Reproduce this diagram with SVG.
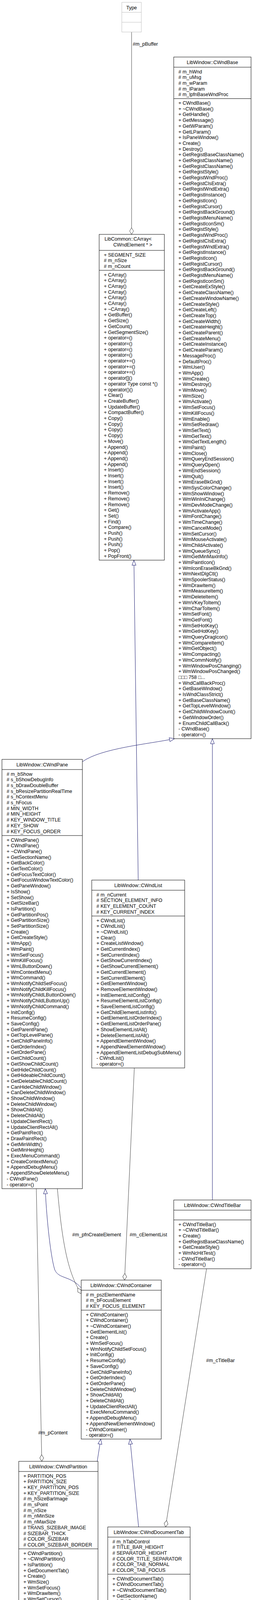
<svg xmlns="http://www.w3.org/2000/svg" width="648" height="4975" viewBox="0 0 648 4975">
<style>
.box{fill:#fff;stroke:#000;stroke-width:1}
.gbox{fill:#bfbfbf;stroke:#000;stroke-width:1}
.sep{stroke:#000;stroke-width:1}
.t{font-family:"Liberation Sans",Arial,sans-serif;font-size:12.5px;fill:#000}
.c{text-anchor:middle}
.gen{stroke:#191970;fill:none;stroke-width:1}
.agg{stroke:#404040;fill:none;stroke-width:1}
</style>
<defs>
<marker id="tri" markerUnits="userSpaceOnUse" markerWidth="16" markerHeight="14" refX="14" refY="7" orient="auto" overflow="visible"><path d="M1,2 L14,7 L1,12 z" fill="#fff" stroke="#191970"/></marker>
<marker id="dia" markerUnits="userSpaceOnUse" markerWidth="20" markerHeight="14" refX="18" refY="7" orient="auto" overflow="visible"><path d="M1,7 L9.5,2 L18,7 L9.5,12 z" fill="#fff" stroke="#404040"/></marker>
</defs>
<rect width="648" height="4975" fill="#fff"/>

<g id="connectors">
<path class="agg" d="M337,82 L337,600" marker-end="url(#dia)"/>
<path class="gen" d="M354,2253 L343,1434" marker-end="url(#tri)"/>
<path class="gen" d="M211,1950 C260,1915 380,1905 447,1891" marker-end="url(#tri)"/>
<path class="gen" d="M544,3072 L544,1891" marker-end="url(#tri)"/>
<path class="gen" d="M208,3297 C180,3265 150,3275 140,3250 C128,3210 118,3100 116,3043" marker-end="url(#tri)"/>
<path class="agg" d="M147,3043 C160,3190 175,3260 208,3312" marker-end="url(#dia)"/>
<path class="agg" d="M344,2734 L319,3277" marker-end="url(#dia)"/>
<path class="agg" d="M93,3043 L107,3741" marker-end="url(#dia)"/>
<path class="gen" d="M249,3741 L258,3684" marker-end="url(#tri)"/>
<path class="gen" d="M355,3909 L333,3684" marker-end="url(#tri)"/>
<path class="agg" d="M529,3248 L424,3909" marker-end="url(#dia)"/>
<path class="agg" d="M346,4390 L313,4628" marker-end="url(#dia)"/>
<path class="gen" d="M251,4628 L241,4560" marker-end="url(#tri)"/>
<text class="t" x="340" y="117">#m_pBuffer</text>
<text class="t" x="332" y="3165">#m_cElementList</text>
<text class="t" x="185" y="3165">#m_pfnCreateElement</text>
<text class="t" x="528" y="3487">#m_cTitleBar</text>
<text class="t" x="321" y="4600">#m_cDocumentTab</text>
<text class="t" x="98" y="3672">#m_pContent</text>
</g>

<g id="Type">
<rect x="312" y="6" width="50" height="76" fill="#fff" stroke="#bfbfbf"/>
<line x1="312" y1="31.5" x2="362" y2="31.5" stroke="#bfbfbf"/>
<line x1="312" y1="57" x2="362" y2="57" stroke="#bfbfbf"/>
<text class="t c" x="337" y="23.5">Type</text>
</g>

<g id="CWndBase">
<rect class="box" x="445" y="146" width="198" height="1745"/>
<line class="sep" x1="445" y1="172" x2="643" y2="172"/>
<line class="sep" x1="445" y1="252.5" x2="643" y2="252.5"/>
<text class="t c" x="544" y="163.5">LibWindow::CWndBase</text>
<text class="t" x="457" y="172.8"><tspan x="457" dy="14.7"># m_hWnd</tspan><tspan x="457" dy="14.7"># m_uMsg</tspan><tspan x="457" dy="14.7"># m_wParam</tspan><tspan x="457" dy="14.7"># m_lParam</tspan><tspan x="457" dy="14.7"># m_lpfnBaseWndProc</tspan></text>
<text class="t" x="457" y="253.3"><tspan x="457" dy="14.7">+ CWndBase()</tspan><tspan x="457" dy="14.7">+ ~CWndBase()</tspan><tspan x="457" dy="14.7">+ GetHandle()</tspan><tspan x="457" dy="14.7">+ GetMessage()</tspan><tspan x="457" dy="14.7">+ GetWParam()</tspan><tspan x="457" dy="14.7">+ GetLParam()</tspan><tspan x="457" dy="14.7">+ IsPaneWindow()</tspan><tspan x="457" dy="14.7">+ Create()</tspan><tspan x="457" dy="14.7">+ Destroy()</tspan><tspan x="457" dy="14.7">+ GetRegistBaseClassName()</tspan><tspan x="457" dy="14.7">+ GetRegistClassName()</tspan><tspan x="457" dy="14.7">+ GetRegistClassName()</tspan><tspan x="457" dy="14.7">+ GetRegistStyle()</tspan><tspan x="457" dy="14.7">+ GetRegistWndProc()</tspan><tspan x="457" dy="14.7">+ GetRegistClsExtra()</tspan><tspan x="457" dy="14.7">+ GetRegistWndExtra()</tspan><tspan x="457" dy="14.7">+ GetRegistInstance()</tspan><tspan x="457" dy="14.7">+ GetRegistIcon()</tspan><tspan x="457" dy="14.7">+ GetRegistCursor()</tspan><tspan x="457" dy="14.7">+ GetRegistBackGround()</tspan><tspan x="457" dy="14.7">+ GetRegistMenuName()</tspan><tspan x="457" dy="14.7">+ GetRegistIconSm()</tspan><tspan x="457" dy="14.7">+ GetRegistStyle()</tspan><tspan x="457" dy="14.7">+ GetRegistWndProc()</tspan><tspan x="457" dy="14.7">+ GetRegistClsExtra()</tspan><tspan x="457" dy="14.7">+ GetRegistWndExtra()</tspan><tspan x="457" dy="14.7">+ GetRegistInstance()</tspan><tspan x="457" dy="14.7">+ GetRegistIcon()</tspan><tspan x="457" dy="14.7">+ GetRegistCursor()</tspan><tspan x="457" dy="14.7">+ GetRegistBackGround()</tspan><tspan x="457" dy="14.7">+ GetRegistMenuName()</tspan><tspan x="457" dy="14.7">+ GetRegistIconSm()</tspan><tspan x="457" dy="14.7">+ GetCreateExStyle()</tspan><tspan x="457" dy="14.7">+ GetCreateClassName()</tspan><tspan x="457" dy="14.7">+ GetCreateWindowName()</tspan><tspan x="457" dy="14.7">+ GetCreateStyle()</tspan><tspan x="457" dy="14.7">+ GetCreateLeft()</tspan><tspan x="457" dy="14.7">+ GetCreateTop()</tspan><tspan x="457" dy="14.7">+ GetCreateWidth()</tspan><tspan x="457" dy="14.7">+ GetCreateHeight()</tspan><tspan x="457" dy="14.7">+ GetCreateParent()</tspan><tspan x="457" dy="14.7">+ GetCreateMenu()</tspan><tspan x="457" dy="14.7">+ GetCreateInstance()</tspan><tspan x="457" dy="14.7">+ GetCreateParam()</tspan><tspan x="457" dy="14.7">+ MessageProc()</tspan><tspan x="457" dy="14.7">+ DefaultProc()</tspan><tspan x="457" dy="14.7">+ WmUser()</tspan><tspan x="457" dy="14.7">+ WmApp()</tspan><tspan x="457" dy="14.7">+ WmCreate()</tspan><tspan x="457" dy="14.7">+ WmDestroy()</tspan><tspan x="457" dy="14.7">+ WmMove()</tspan><tspan x="457" dy="14.7">+ WmSize()</tspan><tspan x="457" dy="14.7">+ WmActivate()</tspan><tspan x="457" dy="14.7">+ WmSetFocus()</tspan><tspan x="457" dy="14.7">+ WmKillFocus()</tspan><tspan x="457" dy="14.7">+ WmEnable()</tspan><tspan x="457" dy="14.7">+ WmSetRedraw()</tspan><tspan x="457" dy="14.7">+ WmSetText()</tspan><tspan x="457" dy="14.7">+ WmGetText()</tspan><tspan x="457" dy="14.7">+ WmGetTextLength()</tspan><tspan x="457" dy="14.7">+ WmPaint()</tspan><tspan x="457" dy="14.7">+ WmClose()</tspan><tspan x="457" dy="14.7">+ WmQueryEndSession()</tspan><tspan x="457" dy="14.7">+ WmQueryOpen()</tspan><tspan x="457" dy="14.7">+ WmEndSession()</tspan><tspan x="457" dy="14.7">+ WmQuit()</tspan><tspan x="457" dy="14.7">+ WmEraseBkGnd()</tspan><tspan x="457" dy="14.7">+ WmSysColorChange()</tspan><tspan x="457" dy="14.7">+ WmShowWindow()</tspan><tspan x="457" dy="14.7">+ WmWinIniChange()</tspan><tspan x="457" dy="14.7">+ WmDevModeChange()</tspan><tspan x="457" dy="14.7">+ WmActivateApp()</tspan><tspan x="457" dy="14.7">+ WmFontChange()</tspan><tspan x="457" dy="14.7">+ WmTimeChange()</tspan><tspan x="457" dy="14.7">+ WmCancelMode()</tspan><tspan x="457" dy="14.7">+ WmSetCursor()</tspan><tspan x="457" dy="14.7">+ WmMouseActivate()</tspan><tspan x="457" dy="14.7">+ WmChildActivate()</tspan><tspan x="457" dy="14.7">+ WmQueueSync()</tspan><tspan x="457" dy="14.7">+ WmGetMinMaxInfo()</tspan><tspan x="457" dy="14.7">+ WmPaintIcon()</tspan><tspan x="457" dy="14.7">+ WmIconEraseBkGnd()</tspan><tspan x="457" dy="14.7">+ WmNextDlgCtl()</tspan><tspan x="457" dy="14.7">+ WmSpoolerStatus()</tspan><tspan x="457" dy="14.7">+ WmDrawItem()</tspan><tspan x="457" dy="14.7">+ WmMeasureItem()</tspan><tspan x="457" dy="14.7">+ WmDeleteItem()</tspan><tspan x="457" dy="14.7">+ WmVKeyToItem()</tspan><tspan x="457" dy="14.7">+ WmCharToItem()</tspan><tspan x="457" dy="14.7">+ WmSetFont()</tspan><tspan x="457" dy="14.7">+ WmGetFont()</tspan><tspan x="457" dy="14.7">+ WmSetHotKey()</tspan><tspan x="457" dy="14.7">+ WmGetHotKey()</tspan><tspan x="457" dy="14.7">+ WmQueryDragIcon()</tspan><tspan x="457" dy="14.7">+ WmCompareItem()</tspan><tspan x="457" dy="14.7">+ WmGetObject()</tspan><tspan x="457" dy="14.7">+ WmCompacting()</tspan><tspan x="457" dy="14.7">+ WmCommNotify()</tspan><tspan x="457" dy="14.7">+ WmWindowPosChanging()</tspan><tspan x="457" dy="14.7">+ WmWindowPosChanged()</tspan><tspan x="457" dy="14.7">□□□ 758 □...</tspan><tspan x="457" dy="14.7">+ WndCallBackProc()</tspan><tspan x="457" dy="14.7">+ GetBaseWindow()</tspan><tspan x="457" dy="14.7">+ IsWndClassStrict()</tspan><tspan x="457" dy="14.7">+ GetBaseClassName()</tspan><tspan x="457" dy="14.7">+ GetTopLevelWindow()</tspan><tspan x="457" dy="14.7">+ GetChildWindowCount()</tspan><tspan x="457" dy="14.7">+ GetWindowOrder()</tspan><tspan x="457" dy="14.7">+ EnumChildCallBack()</tspan><tspan x="457" dy="14.7">- CWndBase()</tspan><tspan x="457" dy="14.7">- operator=()</tspan></text>
</g>

<g id="CArray">
<rect class="box" x="254" y="600" width="167" height="834"/>
<line class="sep" x1="254" y1="641" x2="421" y2="641"/>
<line class="sep" x1="254" y1="692" x2="421" y2="692"/>
<text class="t c" x="328" y="616">LibCommon::CArray&lt;</text>
<text class="t c" x="340" y="631">CWndElement * &gt;</text>
<text class="t" x="266" y="641.8"><tspan x="266" dy="14.7">+ SEGMENT_SIZE</tspan><tspan x="266" dy="14.7"># m_nSize</tspan><tspan x="266" dy="14.7"># m_nCount</tspan></text>
<text class="t" x="266" y="692.8"><tspan x="266" dy="14.7">+ CArray()</tspan><tspan x="266" dy="14.7">+ CArray()</tspan><tspan x="266" dy="14.7">+ CArray()</tspan><tspan x="266" dy="14.7">+ CArray()</tspan><tspan x="266" dy="14.7">+ CArray()</tspan><tspan x="266" dy="14.7">+ CArray()</tspan><tspan x="266" dy="14.7">+ ~CArray()</tspan><tspan x="266" dy="14.7">+ GetBuffer()</tspan><tspan x="266" dy="14.7">+ GetSize()</tspan><tspan x="266" dy="14.7">+ GetCount()</tspan><tspan x="266" dy="14.7">+ GetSegmentSize()</tspan><tspan x="266" dy="14.7">+ operator=()</tspan><tspan x="266" dy="14.7">+ operator=()</tspan><tspan x="266" dy="14.7">+ operator=()</tspan><tspan x="266" dy="14.7">+ operator=()</tspan><tspan x="266" dy="14.7">+ operator+=()</tspan><tspan x="266" dy="14.7">+ operator+=()</tspan><tspan x="266" dy="14.7">+ operator+=()</tspan><tspan x="266" dy="14.7">+ operator[]()</tspan><tspan x="266" dy="14.7">+ operator Type const *()</tspan><tspan x="266" dy="14.7">+ operator()()</tspan><tspan x="266" dy="14.7">+ Clear()</tspan><tspan x="266" dy="14.7">+ CreateBuffer()</tspan><tspan x="266" dy="14.7">+ UpdateBuffer()</tspan><tspan x="266" dy="14.7">+ CompactBuffer()</tspan><tspan x="266" dy="14.7">+ Copy()</tspan><tspan x="266" dy="14.7">+ Copy()</tspan><tspan x="266" dy="14.7">+ Copy()</tspan><tspan x="266" dy="14.7">+ Copy()</tspan><tspan x="266" dy="14.7">+ Move()</tspan><tspan x="266" dy="14.7">+ Append()</tspan><tspan x="266" dy="14.7">+ Append()</tspan><tspan x="266" dy="14.7">+ Append()</tspan><tspan x="266" dy="14.7">+ Append()</tspan><tspan x="266" dy="14.7">+ Insert()</tspan><tspan x="266" dy="14.7">+ Insert()</tspan><tspan x="266" dy="14.7">+ Insert()</tspan><tspan x="266" dy="14.7">+ Insert()</tspan><tspan x="266" dy="14.7">+ Remove()</tspan><tspan x="266" dy="14.7">+ Remove()</tspan><tspan x="266" dy="14.7">+ Remove()</tspan><tspan x="266" dy="14.7">+ Get()</tspan><tspan x="266" dy="14.7">+ Set()</tspan><tspan x="266" dy="14.7">+ Find()</tspan><tspan x="266" dy="14.7">+ Compare()</tspan><tspan x="266" dy="14.7">+ Push()</tspan><tspan x="266" dy="14.7">+ Push()</tspan><tspan x="266" dy="14.7">+ Push()</tspan><tspan x="266" dy="14.7">+ Pop()</tspan><tspan x="266" dy="14.7">+ PopFront()</tspan></text>
</g>

<g id="CWndPane">
<rect class="box" x="5" y="1944" width="206" height="1099"/>
<line class="sep" x1="5" y1="1970" x2="211" y2="1970"/>
<line class="sep" x1="5" y1="2139" x2="211" y2="2139"/>
<text class="t c" x="108" y="1961.5">LibWindow::CWndPane</text>
<text class="t" x="17" y="1970.8"><tspan x="17" dy="14.7"># m_bShow</tspan><tspan x="17" dy="14.7"># s_bShowDebugInfo</tspan><tspan x="17" dy="14.7"># s_bDrawDoubleBuffer</tspan><tspan x="17" dy="14.7"># s_bResizePartitionRealTime</tspan><tspan x="17" dy="14.7"># s_hContextMenu</tspan><tspan x="17" dy="14.7"># s_hFocus</tspan><tspan x="17" dy="14.7"># MIN_WIDTH</tspan><tspan x="17" dy="14.7"># MIN_HEIGHT</tspan><tspan x="17" dy="14.7"># KEY_WINDOW_TITLE</tspan><tspan x="17" dy="14.7"># KEY_SHOW</tspan><tspan x="17" dy="14.7"># KEY_FOCUS_ORDER</tspan></text>
<text class="t" x="17" y="2139.8"><tspan x="17" dy="14.7">+ CWndPane()</tspan><tspan x="17" dy="14.7">+ CWndPane()</tspan><tspan x="17" dy="14.7">+ ~CWndPane()</tspan><tspan x="17" dy="14.7">+ GetSectionName()</tspan><tspan x="17" dy="14.7">+ GetBackColor()</tspan><tspan x="17" dy="14.7">+ GetTextColor()</tspan><tspan x="17" dy="14.7">+ GetFocusTextColor()</tspan><tspan x="17" dy="14.7">+ GetFocusWindowTextColor()</tspan><tspan x="17" dy="14.7">+ GetPaneWindow()</tspan><tspan x="17" dy="14.7">+ IsShow()</tspan><tspan x="17" dy="14.7">+ SetShow()</tspan><tspan x="17" dy="14.7">+ GetSizeBar()</tspan><tspan x="17" dy="14.7">+ IsPartition()</tspan><tspan x="17" dy="14.7">+ GetPartitionPos()</tspan><tspan x="17" dy="14.7">+ GetPartitionSize()</tspan><tspan x="17" dy="14.7">+ SetPartitionSize()</tspan><tspan x="17" dy="14.7">+ Create()</tspan><tspan x="17" dy="14.7">+ GetCreateStyle()</tspan><tspan x="17" dy="14.7">+ WmApp()</tspan><tspan x="17" dy="14.7">+ WmPaint()</tspan><tspan x="17" dy="14.7">+ WmSetFocus()</tspan><tspan x="17" dy="14.7">+ WmKillFocus()</tspan><tspan x="17" dy="14.7">+ WmLButtonDown()</tspan><tspan x="17" dy="14.7">+ WmContextMenu()</tspan><tspan x="17" dy="14.7">+ WmCommand()</tspan><tspan x="17" dy="14.7">+ WmNotifyChildSetFocus()</tspan><tspan x="17" dy="14.7">+ WmNotifyChildKillFocus()</tspan><tspan x="17" dy="14.7">+ WmNotifyChildLButtonDown()</tspan><tspan x="17" dy="14.7">+ WmNotifyChildLButtonUp()</tspan><tspan x="17" dy="14.7">+ WmNotifyChildCommand()</tspan><tspan x="17" dy="14.7">+ InitConfig()</tspan><tspan x="17" dy="14.7">+ ResumeConfig()</tspan><tspan x="17" dy="14.7">+ SaveConfig()</tspan><tspan x="17" dy="14.7">+ GetParentPane()</tspan><tspan x="17" dy="14.7">+ GetTopLevelPane()</tspan><tspan x="17" dy="14.7">+ GetChildPaneInfo()</tspan><tspan x="17" dy="14.7">+ GetOrderIndex()</tspan><tspan x="17" dy="14.7">+ GetOrderPane()</tspan><tspan x="17" dy="14.7">+ GetChildCount()</tspan><tspan x="17" dy="14.7">+ GetShowChildCount()</tspan><tspan x="17" dy="14.7">+ GetHideChildCount()</tspan><tspan x="17" dy="14.7">+ GetHideableChildCount()</tspan><tspan x="17" dy="14.7">+ GetDeletableChildCount()</tspan><tspan x="17" dy="14.7">+ CanHideChildWindow()</tspan><tspan x="17" dy="14.7">+ CanDeleteChildWindow()</tspan><tspan x="17" dy="14.7">+ ShowChildWindow()</tspan><tspan x="17" dy="14.7">+ DeleteChildWindow()</tspan><tspan x="17" dy="14.7">+ ShowChildAll()</tspan><tspan x="17" dy="14.7">+ DeleteChildAll()</tspan><tspan x="17" dy="14.7">+ UpdateClientRect()</tspan><tspan x="17" dy="14.7">+ UpdateClientRectAll()</tspan><tspan x="17" dy="14.7">+ GetPaintRect()</tspan><tspan x="17" dy="14.7">+ DrawPaintRect()</tspan><tspan x="17" dy="14.7">+ GetMinWidth()</tspan><tspan x="17" dy="14.7">+ GetMinHeight()</tspan><tspan x="17" dy="14.7">+ ExecMenuCommand()</tspan><tspan x="17" dy="14.7">+ CreateContextMenu()</tspan><tspan x="17" dy="14.7">+ AppendDebugMenu()</tspan><tspan x="17" dy="14.7">+ AppendShowDeleteMenu()</tspan><tspan x="17" dy="14.7">- CWndPane()</tspan><tspan x="17" dy="14.7">- operator=()</tspan></text>
</g>

<g id="CWndList">
<rect class="box" x="235" y="2253" width="238" height="481"/>
<line class="sep" x1="235" y1="2279" x2="473" y2="2279"/>
<line class="sep" x1="235" y1="2345" x2="473" y2="2345"/>
<text class="t c" x="354" y="2270.5">LibWindow::CWndList</text>
<text class="t" x="247" y="2279.8"><tspan x="247" dy="14.7"># m_nCurrent</tspan><tspan x="247" dy="14.7"># SECTION_ELEMENT_INFO</tspan><tspan x="247" dy="14.7"># KEY_ELEMENT_COUNT</tspan><tspan x="247" dy="14.7"># KEY_CURRENT_INDEX</tspan></text>
<text class="t" x="247" y="2345.8"><tspan x="247" dy="14.7">+ CWndList()</tspan><tspan x="247" dy="14.7">+ CWndList()</tspan><tspan x="247" dy="14.7">+ ~CWndList()</tspan><tspan x="247" dy="14.7">+ Clear()</tspan><tspan x="247" dy="14.7">+ CreateListWindow()</tspan><tspan x="247" dy="14.7">+ GetCurrentIndex()</tspan><tspan x="247" dy="14.7">+ SetCurrentIndex()</tspan><tspan x="247" dy="14.7">+ GetShowCurrentIndex()</tspan><tspan x="247" dy="14.7">+ GetShowCurrentElement()</tspan><tspan x="247" dy="14.7">+ GetCurrentElement()</tspan><tspan x="247" dy="14.7">+ SetCurrentElement()</tspan><tspan x="247" dy="14.7">+ GetElementWindow()</tspan><tspan x="247" dy="14.7">+ RemoveElementWindow()</tspan><tspan x="247" dy="14.7">+ InitElementListConfig()</tspan><tspan x="247" dy="14.7">+ ResumeElementListConfig()</tspan><tspan x="247" dy="14.7">+ SaveElementListConfig()</tspan><tspan x="247" dy="14.7">+ GetChildElementListInfo()</tspan><tspan x="247" dy="14.7">+ GetElementListOrderIndex()</tspan><tspan x="247" dy="14.7">+ GetElementListOrderPane()</tspan><tspan x="247" dy="14.7">+ ShowElementListAll()</tspan><tspan x="247" dy="14.7">+ DeleteElementListAll()</tspan><tspan x="247" dy="14.7">+ AppendElementWindow()</tspan><tspan x="247" dy="14.7">+ AppendNewElementWindow()</tspan><tspan x="247" dy="14.7">+ AppendElementListDebugSubMenu()</tspan><tspan x="247" dy="14.7">- CWndList()</tspan><tspan x="247" dy="14.7">- operator=()</tspan></text>
</g>

<g id="CWndTitleBar">
<rect class="box" x="445" y="3072" width="198" height="176"/>
<line class="sep" x1="445" y1="3098" x2="643" y2="3098"/>
<line class="sep" x1="445" y1="3123" x2="643" y2="3123"/>
<text class="t c" x="544" y="3089.5">LibWindow::CWndTitleBar</text>
<text class="t" x="457" y="3123.8"><tspan x="457" dy="14.7">+ CWndTitleBar()</tspan><tspan x="457" dy="14.7">+ ~CWndTitleBar()</tspan><tspan x="457" dy="14.7">+ Create()</tspan><tspan x="457" dy="14.7">+ GetRegistBaseClassName()</tspan><tspan x="457" dy="14.7">+ GetCreateStyle()</tspan><tspan x="457" dy="14.7">+ WmNcHitTest()</tspan><tspan x="457" dy="14.7">- CWndTitleBar()</tspan><tspan x="457" dy="14.7">- operator=()</tspan></text>
</g>

<g id="CWndContainer">
<rect class="box" x="208" y="3277" width="205" height="407"/>
<line class="sep" x1="208" y1="3303" x2="413" y2="3303"/>
<line class="sep" x1="208" y1="3354" x2="413" y2="3354"/>
<text class="t c" x="310" y="3294.5">LibWindow::CWndContainer</text>
<text class="t" x="220" y="3303.8"><tspan x="220" dy="14.7"># m_pszElementName</tspan><tspan x="220" dy="14.7"># m_bFocusElement</tspan><tspan x="220" dy="14.7"># KEY_FOCUS_ELEMENT</tspan></text>
<text class="t" x="220" y="3354.8"><tspan x="220" dy="14.7">+ CWndContainer()</tspan><tspan x="220" dy="14.7">+ CWndContainer()</tspan><tspan x="220" dy="14.7">+ ~CWndContainer()</tspan><tspan x="220" dy="14.7">+ GetElementList()</tspan><tspan x="220" dy="14.7">+ Create()</tspan><tspan x="220" dy="14.7">+ WmSetFocus()</tspan><tspan x="220" dy="14.7">+ WmNotifyChildSetFocus()</tspan><tspan x="220" dy="14.7">+ InitConfig()</tspan><tspan x="220" dy="14.7">+ ResumeConfig()</tspan><tspan x="220" dy="14.7">+ SaveConfig()</tspan><tspan x="220" dy="14.7">+ GetChildPaneInfo()</tspan><tspan x="220" dy="14.7">+ GetOrderIndex()</tspan><tspan x="220" dy="14.7">+ GetOrderPane()</tspan><tspan x="220" dy="14.7">+ DeleteChildWindow()</tspan><tspan x="220" dy="14.7">+ ShowChildAll()</tspan><tspan x="220" dy="14.7">+ DeleteChildAll()</tspan><tspan x="220" dy="14.7">+ UpdateClientRectAll()</tspan><tspan x="220" dy="14.7">+ ExecMenuCommand()</tspan><tspan x="220" dy="14.7">+ AppendDebugMenu()</tspan><tspan x="220" dy="14.7">+ AppendNewElementWindow()</tspan><tspan x="220" dy="14.7">- CWndContainer()</tspan><tspan x="220" dy="14.7">- operator=()</tspan></text>
</g>

<g id="CWndPartition">
<rect class="box" x="48" y="3741" width="203" height="819"/>
<line class="sep" x1="48" y1="3767" x2="251" y2="3767"/>
<line class="sep" x1="48" y1="3965" x2="251" y2="3965"/>
<text class="t c" x="149" y="3758.5">LibWindow::CWndPartition</text>
<text class="t" x="60" y="3767.8"><tspan x="60" dy="14.7">+ PARTITION_POS</tspan><tspan x="60" dy="14.7">+ PARTITION_SIZE</tspan><tspan x="60" dy="14.7">+ KEY_PARTITION_POS</tspan><tspan x="60" dy="14.7">+ KEY_PARTITION_SIZE</tspan><tspan x="60" dy="14.7"># m_hSizeBarImage</tspan><tspan x="60" dy="14.7"># m_sPoint</tspan><tspan x="60" dy="14.7"># m_nSize</tspan><tspan x="60" dy="14.7"># m_nMinSize</tspan><tspan x="60" dy="14.7"># m_nMaxSize</tspan><tspan x="60" dy="14.7"># TRANS_SIZEBAR_IMAGE</tspan><tspan x="60" dy="14.7"># SIZEBAR_THICK</tspan><tspan x="60" dy="14.7"># COLOR_SIZEBAR</tspan><tspan x="60" dy="14.7"># COLOR_SIZEBAR_BORDER</tspan></text>
<text class="t" x="60" y="3965.8"><tspan x="60" dy="14.7">+ CWndPartition()</tspan><tspan x="60" dy="14.7">+ ~CWndPartition()</tspan><tspan x="60" dy="14.7">+ IsPartition()</tspan><tspan x="60" dy="14.7">+ GetDocumentTab()</tspan><tspan x="60" dy="14.7">+ Create()</tspan><tspan x="60" dy="14.7">+ WmSize()</tspan><tspan x="60" dy="14.7">+ WmSetFocus()</tspan><tspan x="60" dy="14.7">+ WmDrawItem()</tspan><tspan x="60" dy="14.7">+ WmSetCursor()</tspan><tspan x="60" dy="14.7">+ StnClicked()</tspan><tspan x="60" dy="14.7">+ WmLButtonUp()</tspan><tspan x="60" dy="14.7">+ WmKeyDown()</tspan><tspan x="60" dy="14.7">+ WmMouseMove()</tspan><tspan x="60" dy="14.7">+ InitConfig()</tspan><tspan x="60" dy="14.7">+ ResumeConfig()</tspan><tspan x="60" dy="14.7">+ SaveConfig()</tspan><tspan x="60" dy="14.7">+ GetChildPaneInfo()</tspan><tspan x="60" dy="14.7">+ GetOrderIndex()</tspan><tspan x="60" dy="14.7">+ GetOrderPane()</tspan><tspan x="60" dy="14.7">+ ShowChildAll()</tspan><tspan x="60" dy="14.7">+ DeleteChildAll()</tspan><tspan x="60" dy="14.7">+ CanDeleteChildWindow()</tspan><tspan x="60" dy="14.7">+ UpdateClientRectAll()</tspan><tspan x="60" dy="14.7">+ GetPaintRect()</tspan><tspan x="60" dy="14.7">+ GetMinWidth()</tspan><tspan x="60" dy="14.7">+ GetMinHeight()</tspan><tspan x="60" dy="14.7">+ AppendDebugMenu()</tspan><tspan x="60" dy="14.7">+ GetPartitionClientRect()</tspan><tspan x="60" dy="14.7">+ GetMinSize()</tspan><tspan x="60" dy="14.7">+ GetMinPartitionSize()</tspan><tspan x="60" dy="14.7">+ GetPartitionPos()</tspan><tspan x="60" dy="14.7">+ BeginMoveSizeBar()</tspan><tspan x="60" dy="14.7">+ CancelMoveSizeBar()</tspan><tspan x="60" dy="14.7">+ MoveSizeBar()</tspan><tspan x="60" dy="14.7">+ EndMoveSizeBar()</tspan><tspan x="60" dy="14.7">+ CreateSizeBarImageControl()</tspan><tspan x="60" dy="14.7">+ DrawSizeBar()</tspan><tspan x="60" dy="14.7">+ CreateSizeBar()</tspan><tspan x="60" dy="14.7">- CWndPartition()</tspan><tspan x="60" dy="14.7">- operator=()</tspan></text>
</g>

<g id="CWndDocumentTab">
<rect class="box" x="276" y="3909" width="211" height="481"/>
<line class="sep" x1="276" y1="3935" x2="487" y2="3935"/>
<line class="sep" x1="276" y1="4030" x2="487" y2="4030"/>
<text class="t c" x="381" y="3926.5">LibWindow::CWndDocumentTab</text>
<text class="t" x="288" y="3935.8"><tspan x="288" dy="14.7"># m_hTabControl</tspan><tspan x="288" dy="14.7"># TITLE_BAR_HEIGHT</tspan><tspan x="288" dy="14.7"># SEPARATOR_HEIGHT</tspan><tspan x="288" dy="14.7"># COLOR_TITLE_SEPARATOR</tspan><tspan x="288" dy="14.7"># COLOR_TAB_NORMAL</tspan><tspan x="288" dy="14.7"># COLOR_TAB_FOCUS</tspan></text>
<text class="t" x="288" y="4030.8"><tspan x="288" dy="14.7">+ CWndDocumentTab()</tspan><tspan x="288" dy="14.7">+ CWndDocumentTab()</tspan><tspan x="288" dy="14.7">+ ~CWndDocumentTab()</tspan><tspan x="288" dy="14.7">+ GetSectionName()</tspan><tspan x="288" dy="14.7">+ IsTabBottom()</tspan><tspan x="288" dy="14.7">+ Create()</tspan><tspan x="288" dy="14.7">+ GetCreateStyle()</tspan><tspan x="288" dy="14.7">+ WmSize()</tspan><tspan x="288" dy="14.7">+ WmDrawItem()</tspan><tspan x="288" dy="14.7">+ TcnSelChange()</tspan><tspan x="288" dy="14.7">+ NmClick()</tspan><tspan x="288" dy="14.7">+ StnClicked()</tspan><tspan x="288" dy="14.7">+ WmContextMenu()</tspan><tspan x="288" dy="14.7">+ UpdateClientRect()</tspan><tspan x="288" dy="14.7">+ GetPaintRect()</tspan><tspan x="288" dy="14.7">+ GetMinWidth()</tspan><tspan x="288" dy="14.7">+ GetMinHeight()</tspan><tspan x="288" dy="14.7">+ DrawTitleBar()</tspan><tspan x="288" dy="14.7">+ CreateTabControl()</tspan><tspan x="288" dy="14.7">+ UpdateTabControl()</tspan><tspan x="288" dy="14.7">+ DrawTabControl()</tspan><tspan x="288" dy="14.7">+ CreateDocumentWindow()</tspan><tspan x="288" dy="14.7">- CWndDocumentTab()</tspan><tspan x="288" dy="14.7">- operator=()</tspan></text>
</g>

<g id="CWndOverlap">
<rect class="gbox" x="200" y="4628" width="175" height="339"/>
<line class="sep" x1="200" y1="4654" x2="375" y2="4654"/>
<line class="sep" x1="200" y1="4694" x2="375" y2="4694"/>
<text class="t c" x="287.5" y="4645.5">LibWindow::CWndOverlap</text>
<text class="t" x="211" y="4654.8"><tspan x="211" dy="14.7"># WINDOW_WIDTH</tspan><tspan x="211" dy="14.7"># WINDOW_HEIGHT</tspan></text>
<text class="t" x="211" y="4694.8"><tspan x="211" dy="14.7">+ CWndOverlap()</tspan><tspan x="211" dy="14.7">+ ~CWndOverlap()</tspan><tspan x="211" dy="14.7">+ GetSectionName()</tspan><tspan x="211" dy="14.7">+ GetDocumentTab()</tspan><tspan x="211" dy="14.7">+ Create()</tspan><tspan x="211" dy="14.7">+ GetCreateStyle()</tspan><tspan x="211" dy="14.7">+ GetCreateLeft()</tspan><tspan x="211" dy="14.7">+ GetCreateTop()</tspan><tspan x="211" dy="14.7">+ GetCreateWidth()</tspan><tspan x="211" dy="14.7">+ GetCreateHeight()</tspan><tspan x="211" dy="14.7">+ WmGetMinMaxInfo()</tspan><tspan x="211" dy="14.7">+ ResumeConfig()</tspan><tspan x="211" dy="14.7">+ SaveConfig()</tspan><tspan x="211" dy="14.7">+ GetMinWidth()</tspan><tspan x="211" dy="14.7">+ GetMinHeight()</tspan><tspan x="211" dy="14.7">+ CreatePartitionWindow()</tspan><tspan x="211" dy="14.7">- CWndOverlap()</tspan><tspan x="211" dy="14.7">- operator=()</tspan></text>
</g>
</svg>
